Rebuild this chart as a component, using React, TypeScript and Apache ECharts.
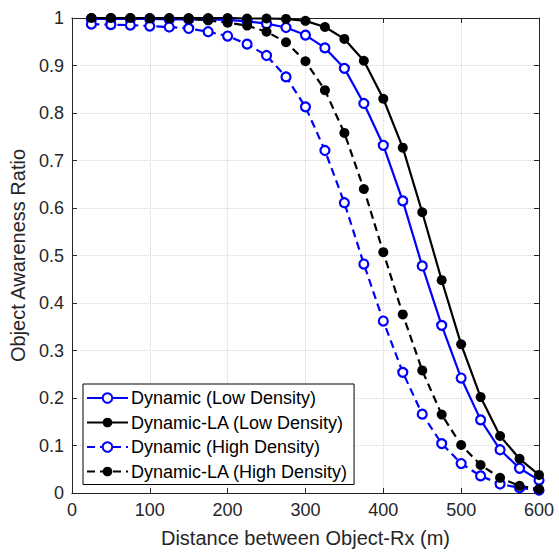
import React, { useEffect, useRef } from "react";
import * as echarts from "echarts";

const xValues = [25, 50, 75, 100, 125, 150, 175, 200, 225, 250, 275, 300, 325, 350, 375, 400, 425, 450, 475, 500, 525, 550, 575, 600];

const dynamicLow = [0.998, 0.998, 0.998, 0.998, 0.997, 0.997, 0.997, 0.996, 0.993, 0.988, 0.980, 0.964, 0.937, 0.894, 0.820, 0.732, 0.615, 0.478, 0.353, 0.242, 0.154, 0.091, 0.052, 0.027];
const dynamicLALow = [1.0, 1.0, 1.0, 1.0, 1.0, 1.0, 1.0, 1.0, 0.999, 0.999, 0.998, 0.994, 0.981, 0.956, 0.910, 0.830, 0.727, 0.591, 0.448, 0.313, 0.202, 0.120, 0.072, 0.038];
const dynamicHigh = [0.987, 0.986, 0.985, 0.983, 0.981, 0.978, 0.971, 0.962, 0.945, 0.921, 0.876, 0.813, 0.721, 0.611, 0.482, 0.362, 0.254, 0.166, 0.104, 0.062, 0.036, 0.019, 0.011, 0.006];
const dynamicLAHigh = [1.0, 1.0, 1.0, 0.999, 0.999, 0.998, 0.995, 0.990, 0.984, 0.971, 0.949, 0.909, 0.848, 0.758, 0.640, 0.507, 0.376, 0.258, 0.165, 0.101, 0.059, 0.032, 0.015, 0.008];

const seriesNames = [
  "Dynamic (Low Density)",
  "Dynamic-LA (Low Density)",
  "Dynamic (High Density)",
  "Dynamic-LA (High Density)",
];

const yTicks = [0, 0.1, 0.2, 0.3, 0.4, 0.5, 0.6, 0.7, 0.8, 0.9, 1];

const FONT = "'Liberation Sans', Arial, sans-serif";
const AXIS_COLOR = "#262626";

function pairs(ys: number[]) {
  return xValues.map((x, i) => [x, ys[i]]);
}

export default function App() {
  const ref = useRef<HTMLDivElement>(null);

  useEffect(() => {
    if (!ref.current) return;
    const chart = echarts.init(ref.current, undefined, { renderer: "svg" });

    const gridLine = { show: true, lineStyle: { color: "#d6d6d6", type: [1, 1] as any, width: 1 } };
    const mkSeries = (name: string, ys: number[], color: string, filled: boolean, dashed: boolean) => ({
      name,
      type: "line",
      data: pairs(ys),
      symbol: "circle",
      symbolSize: filled ? 10 : 9,
      showSymbol: true,
      lineStyle: { color, width: 2.2, type: dashed ? [8, 5] : "solid" },
      itemStyle: {
        color: filled ? color : "#ffffff",
        borderColor: color,
        borderWidth: filled ? 0 : 2.2,
      },
      emphasis: { disabled: true },
      z: 3,
    });

    chart.setOption({
      animation: false,
      backgroundColor: "#ffffff",
      textStyle: { fontFamily: FONT },
      grid: { left: 71, right: 20, top: 18, bottom: 56, containLabel: false },
      legend: {
        show: true,
        orient: "vertical",
        left: 83,
        top: 384,
        data: seriesNames,
        backgroundColor: "#ffffff",
        borderColor: "#000000",
        borderWidth: 1,
        padding: [5, 6, 4, 3],
        itemWidth: 41,
        itemHeight: 12,
        itemGap: 6.5,
        textStyle: { fontFamily: FONT, fontSize: 18, color: "#000000", padding: [0, 0, 0, -2] },
        selectedMode: false,
      },
      xAxis: [
        {
          type: "value",
          min: 0,
          max: 600,
          interval: 100,
          position: "bottom",
          name: "Distance between Object-Rx (m)",
          nameLocation: "middle",
          nameGap: 35,
          nameTextStyle: { fontFamily: FONT, fontSize: 20, color: AXIS_COLOR },
          axisLine: { show: true, onZero: false, lineStyle: { color: AXIS_COLOR, width: 1 } },
          axisTick: { show: true, inside: true, length: 5, lineStyle: { color: AXIS_COLOR } },
          axisLabel: { fontFamily: FONT, fontSize: 18, color: AXIS_COLOR, margin: 8 },
          splitLine: gridLine,
        },
        {
          type: "value",
          min: 0,
          max: 600,
          interval: 100,
          position: "top",
          axisLine: { show: true, onZero: false, lineStyle: { color: AXIS_COLOR, width: 1 } },
          axisTick: { show: true, inside: true, length: 5, lineStyle: { color: AXIS_COLOR } },
          axisLabel: { show: false },
          splitLine: { show: false },
        },
      ],
      yAxis: [
        {
          type: "value",
          min: 0,
          max: 1,
          interval: 0.1,
          position: "left",
          name: "Object Awareness Ratio",
          nameLocation: "middle",
          nameGap: 27,
          nameTextStyle: { fontFamily: FONT, fontSize: 20, color: AXIS_COLOR },
          axisLine: { show: true, onZero: false, lineStyle: { color: AXIS_COLOR, width: 1 } },
          axisTick: { show: true, inside: true, length: 5, lineStyle: { color: AXIS_COLOR } },
          axisLabel: {
            fontFamily: FONT,
            fontSize: 18,
            color: AXIS_COLOR,
            margin: 8,
            formatter: (v: number) => {
              const t = yTicks.find((k) => Math.abs(k - v) < 1e-9);
              return t === undefined ? "" : String(Math.round(t * 10) / 10);
            },
          },
          splitLine: gridLine,
        },
        {
          type: "value",
          min: 0,
          max: 1,
          interval: 0.1,
          position: "right",
          axisLine: { show: true, onZero: false, lineStyle: { color: AXIS_COLOR, width: 1 } },
          axisTick: { show: true, inside: true, length: 5, lineStyle: { color: AXIS_COLOR } },
          axisLabel: { show: false },
          splitLine: { show: false },
        },
      ],
      series: [
        mkSeries(seriesNames[0], dynamicLow, "#0000ff", false, false),
        mkSeries(seriesNames[1], dynamicLALow, "#000000", true, false),
        mkSeries(seriesNames[2], dynamicHigh, "#0000ff", false, true),
        mkSeries(seriesNames[3], dynamicLAHigh, "#000000", true, true),
      ],
    });

    return () => chart.dispose();
  }, []);

  return (
    <div
      ref={ref}
      style={{ position: "absolute", left: 0, top: 0, width: 559, height: 553, background: "#ffffff" }}
    />
  );
}
